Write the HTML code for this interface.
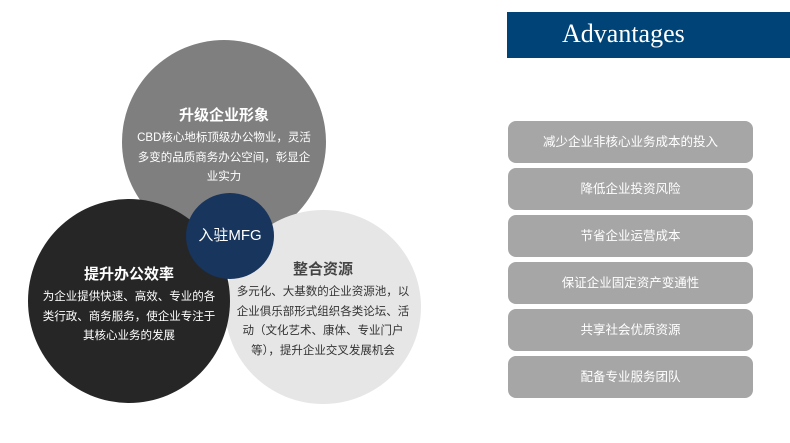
<!DOCTYPE html>
<html><head><meta charset="utf-8"><style>
body{margin:0;width:790px;height:443px;background:#fff;position:relative;overflow:hidden;font-family:"Liberation Sans","Noto Sans CJK SC",sans-serif}
.c{position:absolute;border-radius:50%;text-align:center;box-sizing:border-box}
.t{font-weight:bold;font-size:15px;margin-bottom:4px}
.p{font-size:11.5px;line-height:19.5px}
.hd{position:absolute;left:507px;top:12px;width:283px;height:46px;background:#004477}
.hd span{position:absolute;left:55px;top:7px;color:#fff;font:26px "Liberation Serif",serif}
.b{position:absolute;left:508px;width:245px;height:42px;background:#a6a6a6;border-radius:8px;color:#fff;font-size:12.5px;line-height:42px;text-align:center}
</style></head><body>
<div class="c" style="left:122px;top:40px;width:204px;height:204px;background:#7f7f7f;color:#fff;padding-top:64px">
<div class="t">升级企业形象</div><div class="p" style="padding:0 8px">CBD核心地标顶级办公物业，灵活<br>多变的品质商务办公空间，彰显企<br>业实力</div></div>
<div class="c" style="left:225px;top:210px;width:196px;height:194px;background:#e6e6e6;color:#333;padding-top:48px">
<div class="t" style="color:#444">整合资源</div><div class="p" style="padding:0 4px">多元化、大基数的企业资源池，以<br>企业俱乐部形式组织各类论坛、活<br>动（文化艺术、康体、专业门户<br>等），提升企业交叉发展机会</div></div>
<div class="c" style="left:28px;top:199px;width:202px;height:204px;background:#262626;color:#fff;padding-top:64px">
<div class="t">提升办公效率</div><div class="p" style="padding:0 4px">为企业提供快速、高效、专业的各<br>类行政、商务服务，使企业专注于<br>其核心业务的发展</div></div>
<div class="c" style="left:186px;top:193px;width:88px;height:86px;background:#18355e;color:#fff;font-size:15px;line-height:86px">入驻MFG</div>
<div class="hd"><span>Advantages</span></div>
<div class="b" style="top:121px">减少企业非核心业务成本的投入</div>
<div class="b" style="top:168px">降低企业投资风险</div>
<div class="b" style="top:215px">节省企业运营成本</div>
<div class="b" style="top:262px">保证企业固定资产变通性</div>
<div class="b" style="top:309px">共享社会优质资源</div>
<div class="b" style="top:356px">配备专业服务团队</div>
</body></html>
